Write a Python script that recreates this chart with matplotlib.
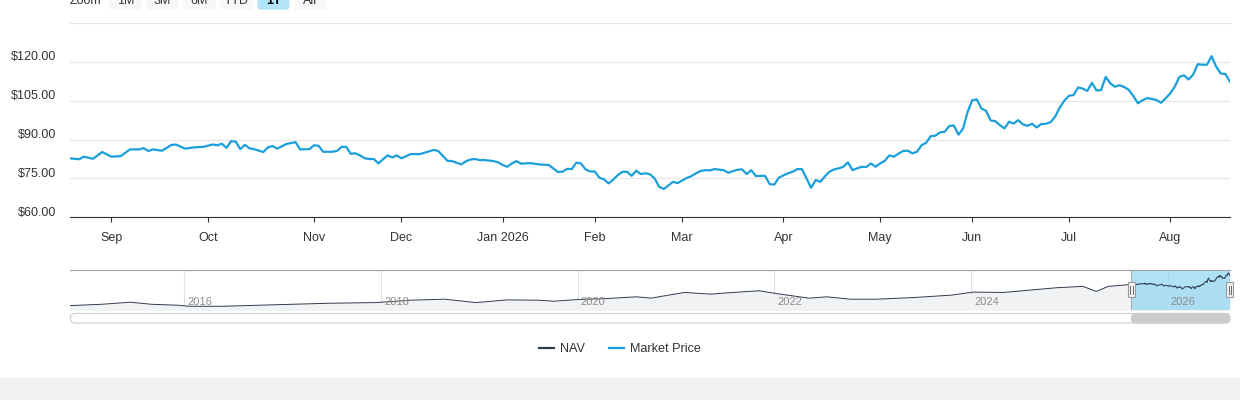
import matplotlib
matplotlib.use("Agg")
import matplotlib.pyplot as plt
import matplotlib.dates as mdates
from matplotlib.lines import Line2D
from matplotlib.patches import Rectangle, FancyBboxPatch
from matplotlib.transforms import ScaledTranslation, IdentityTransform
import numpy as np
import pandas as pd

plt.rcParams['font.family'] = ['Liberation Sans', 'DejaVu Sans']

price_dates = [
    '2025-08-19', '2025-08-21', '2025-08-22', '2025-08-26', '2025-08-28',
    '2025-09-02', '2025-09-04', '2025-09-08', '2025-09-10', '2025-09-11', '2025-09-12',
    '2025-09-15', '2025-09-17', '2025-09-19', '2025-09-22', '2025-09-24', '2025-09-26',
    '2025-09-30', '2025-10-02', '2025-10-03', '2025-10-06', '2025-10-07', '2025-10-08',
    '2025-10-09', '2025-10-10', '2025-10-13', '2025-10-14', '2025-10-15', '2025-10-17',
    '2025-10-20', '2025-10-21', '2025-10-22', '2025-10-24', '2025-10-28', '2025-10-29',
    '2025-10-31', '2025-11-03', '2025-11-04', '2025-11-05', '2025-11-07', '2025-11-10',
    '2025-11-11', '2025-11-12', '2025-11-13', '2025-11-14', '2025-11-17', '2025-11-18',
    '2025-11-19', '2025-11-20', '2025-11-21', '2025-11-24', '2025-11-25', '2025-11-26',
    '2025-11-28', '2025-12-01', '2025-12-03', '2025-12-05', '2025-12-08', '2025-12-10',
    '2025-12-11', '2025-12-15', '2025-12-16', '2025-12-18', '2025-12-19', '2025-12-22',
    '2025-12-23', '2025-12-24', '2025-12-26', '2025-12-30', '2025-12-31', '2026-01-02',
    '2026-01-05', '2026-01-06', '2026-01-07', '2026-01-08', '2026-01-12', '2026-01-14',
    '2026-01-16', '2026-01-21', '2026-01-22', '2026-01-23', '2026-01-26', '2026-01-27',
    '2026-01-28', '2026-01-29', '2026-01-30', '2026-02-02', '2026-02-03', '2026-02-04',
    '2026-02-05', '2026-02-06', '2026-02-09', '2026-02-10', '2026-02-11', '2026-02-12',
    '2026-02-13', '2026-02-17', '2026-02-18', '2026-02-19', '2026-02-20', '2026-02-23',
    '2026-02-24', '2026-02-25', '2026-02-26', '2026-02-27', '2026-03-02', '2026-03-03',
    '2026-03-04', '2026-03-05', '2026-03-06', '2026-03-09', '2026-03-10', '2026-03-11',
    '2026-03-12', '2026-03-13', '2026-03-16', '2026-03-17', '2026-03-18', '2026-03-19',
    '2026-03-20', '2026-03-23', '2026-03-24', '2026-03-25', '2026-03-26', '2026-03-27',
    '2026-03-30', '2026-03-31', '2026-04-01', '2026-04-02', '2026-04-06', '2026-04-07',
    '2026-04-08', '2026-04-09', '2026-04-10', '2026-04-13', '2026-04-14', '2026-04-15',
    '2026-04-16', '2026-04-17', '2026-04-20', '2026-04-21', '2026-04-22', '2026-04-23',
    '2026-04-24', '2026-04-27', '2026-04-28', '2026-04-29', '2026-04-30', '2026-05-01',
    '2026-05-04', '2026-05-05', '2026-05-06', '2026-05-07', '2026-05-08', '2026-05-11',
    '2026-05-12', '2026-05-13', '2026-05-14', '2026-05-15', '2026-05-18', '2026-05-19',
    '2026-05-20', '2026-05-21', '2026-05-22', '2026-05-26', '2026-05-27', '2026-05-28',
    '2026-05-29', '2026-06-01', '2026-06-02', '2026-06-03', '2026-06-04', '2026-06-05',
    '2026-06-08', '2026-06-09', '2026-06-10', '2026-06-11', '2026-06-12', '2026-06-15',
    '2026-06-16', '2026-06-17', '2026-06-18', '2026-06-22', '2026-06-23', '2026-06-24',
    '2026-06-25', '2026-06-26', '2026-06-29', '2026-06-30', '2026-07-01', '2026-07-02',
    '2026-07-06', '2026-07-07', '2026-07-08', '2026-07-09', '2026-07-10', '2026-07-13',
    '2026-07-14', '2026-07-15', '2026-07-16', '2026-07-17', '2026-07-20', '2026-07-21',
    '2026-07-22', '2026-07-23', '2026-07-24', '2026-07-27', '2026-07-28', '2026-07-29',
    '2026-07-30', '2026-07-31', '2026-08-03', '2026-08-04', '2026-08-05', '2026-08-06',
    '2026-08-07', '2026-08-10', '2026-08-11', '2026-08-12', '2026-08-13', '2026-08-14',
    '2026-08-17', '2026-08-18', '2026-08-19', '2026-08-20',
]
price_values = [
    82.75, 82.4, 83.4, 82.6, 85.2,
    83.4, 83.6, 86.2, 86.2, 86.7, 85.6,
    86.2, 85.7, 87.9, 88.1, 86.5, 87.0,
    87.2, 88.1, 87.8, 88.4, 86.8, 89.4,
    89.2, 86.3, 88.0, 86.6, 86.3, 85.2,
    87.0, 87.5, 86.5, 88.3, 89.0, 86.2,
    86.3, 87.8, 87.6, 85.3, 85.3, 85.6,
    87.2, 87.2, 84.5, 84.7, 83.9, 82.8,
    82.5, 82.5, 80.8, 82.4, 83.9, 83.1,
    83.9, 82.75, 84.4, 84.4, 84.9, 86.0,
    85.6, 81.8, 81.7, 80.4, 81.6, 82.3,
    82.5, 82.1, 82.1, 81.7, 81.2, 80.2,
    79.5, 80.8, 81.7, 80.7, 80.9, 80.4,
    80.2, 77.5, 77.6, 78.7, 78.6, 81.1,
    80.8, 78.5, 77.7, 77.7, 75.3, 74.65,
    73.1, 74.5, 76.3, 77.5, 77.6, 76.0,
    78.0, 76.7, 77.0, 76.6, 75.0, 71.8,
    70.9, 72.3, 73.7, 73.2, 74.2, 75.2,
    75.9, 77.0, 77.85, 78.2, 78.1, 78.6,
    78.4, 78.2, 77.2, 77.8, 78.35, 78.5,
    76.7, 78.2, 75.9, 76.0, 76.0, 72.8,
    72.6, 75.3, 76.2, 77.0, 77.6, 78.6,
    78.6, 75.0, 71.4, 74.4, 73.7, 75.8,
    77.6, 78.5, 78.9, 79.5, 81.2, 78.2,
    78.9, 79.5, 79.4, 80.8, 79.5, 80.8,
    81.8, 83.9, 83.4, 84.6, 85.6, 85.7,
    84.7, 85.3, 87.8, 88.8, 91.35, 91.5,
    92.8, 93.0, 95.2, 95.5, 91.9, 94.2,
    100.7, 105.2, 105.5, 102.0, 101.1, 97.4,
    97.1, 95.6, 94.3, 96.9, 96.2, 97.5,
    95.9, 95.3, 96.1, 94.7, 96.0, 96.1,
    96.7, 98.8, 102.3, 105.0, 106.9, 107.2,
    110.1, 109.7, 108.8, 111.9, 109.0, 109.1,
    114.2, 111.7, 110.4, 111.0, 110.3, 109.2,
    106.8, 104.0, 105.2, 106.0, 105.7, 105.3,
    104.2, 105.9, 107.8, 110.4, 114.2, 114.8,
    113.2, 115.1, 119.1, 118.9, 118.9, 122.2,
    118.1, 115.5, 115.3, 112.3,
]

# historique NAV (navigateur)
nav_hist_dates = [
    '2014-11-03', '2015-03-01', '2015-06-15', '2015-09-01', '2015-12-10', '2016-01-20',
    '2016-05-20', '2016-11-20', '2017-06-20', '2017-12-15', '2018-04-20', '2018-08-25',
    '2018-12-20', '2019-04-15', '2019-08-10', '2019-10-05', '2020-01-01', '2020-04-20',
    '2020-08-05', '2020-10-01', '2021-02-01', '2021-05-10', '2021-08-01', '2021-11-05',
    '2022-01-15', '2022-05-10', '2022-07-15', '2022-10-10', '2023-01-15', '2023-06-05',
    '2023-10-20', '2024-01-10', '2024-05-01', '2024-07-25', '2024-11-15', '2025-02-20',
    '2025-04-10', '2025-05-25', '2025-08-08',
]
nav_hist_values = [
    18.1, 22.4, 28.9, 22.4, 19.2, 16.0,
    16.0, 20.3, 25.6, 27.8, 35.3, 38.5,
    27.8, 36.3, 35.3, 32.1, 37.4, 40.6,
    46.0, 42.0, 59.9, 54.6, 59.9, 65.2,
    55.6, 41.7, 46.0, 38.5, 38.5, 43.8,
    51.4, 61.0, 59.9, 66.3, 74.9, 79.2,
    63.1, 79.2, 84.5,
]

market_holidays = ['2025-09-01', '2025-11-27', '2025-12-25', '2026-01-01', '2026-01-19',
                   '2026-02-16', '2026-04-03', '2026-05-25', '2026-06-19', '2026-07-03']
y_ticks = [60, 75, 90, 105, 120]
zoom_buttons = ['1M', '3M', '6M', 'YTD', '1Y', 'All']
nav_years = [2016, 2018, 2020, 2022, 2024, 2026]

BLUE = '#1a9fdb'
NAV_COL = '#2f3b4c'
W, H = 1240, 400

fig = plt.figure(figsize=(W / 100, H / 100), dpi=100)


def px_box(x0, y0, x1, y1):
    # pixels depuis le haut -> rectangle en coordonnées figure
    return [x0 / W, 1 - y1 / H, (x1 - x0) / W, (y1 - y0) / H]


# --- graphique principal (axe ordinal : jours de bourse) ---
days = pd.bdate_range(price_dates[0], price_dates[-1], freq='C', holidays=market_holidays)
pos = days.get_indexer(pd.to_datetime(price_dates))

ax = fig.add_axes(px_box(70, 23, 1230, 217.3))
ax.plot(pos, price_values, color=BLUE, lw=1.6, solid_joinstyle='round', zorder=3)
ax.set_xlim(0, len(days) - 1)
ax.set_ylim(60, 135)

ax.set_yticks(y_ticks)
ax.set_yticklabels([f'${v:.2f}' for v in y_ticks])
ax.yaxis.grid(True, color='#e6e6e6', lw=0.8)
ax.axhline(135, color='#e6e6e6', lw=0.8, clip_on=False)
ax.set_axisbelow(True)
ax.tick_params(axis='y', length=0, pad=10, labelsize=9, labelcolor='#333333')
for lab in ax.get_yticklabels():
    lab.set_transform(lab.get_transform() + ScaledTranslation(0, 0.06, fig.dpi_scale_trans))

idx = pd.Series(np.arange(len(days)), index=days)
firsts = idx.groupby(days.to_period('M')).first().iloc[1:]
ax.set_xticks(firsts.values)
ax.set_xticklabels([p.strftime('%b %Y') if p.month == 1 else p.strftime('%b') for p in firsts.index])
ax.tick_params(axis='x', length=3.7, width=0.8, color='#333333', pad=7,
               labelsize=9, labelcolor='#333333')
for s in ['top', 'left', 'right']:
    ax.spines[s].set_visible(False)
ax.spines['bottom'].set_color('#333333')
ax.spines['bottom'].set_linewidth(0.8)

# --- navigateur ---
nav = fig.add_axes(px_box(70, 269.5, 1230, 310))
nav_dates = pd.to_datetime(nav_hist_dates + price_dates)
nav_vals = nav_hist_values + price_values
sel_start = pd.Timestamp(price_dates[0])
sel_end = pd.Timestamp(price_dates[-1])
nav.fill_between(nav_dates, nav_vals, 0, color='#f1f2f4', lw=0, zorder=1)
nav.axvspan(sel_start, sel_end, color='#8fd6f3', alpha=0.7, lw=0, zorder=2)
nav.plot(nav_dates, nav_vals, color=NAV_COL, lw=0.7, zorder=4)
nav.set_xlim(pd.Timestamp('2014-11-03'), sel_end)
nav.set_ylim(4.2, 132.7)
for yr in nav_years:
    t = pd.Timestamp(f'{yr}-01-01')
    nav.axvline(t, color='#e0e0e0', lw=0.8, zorder=0.5)
    nav.annotate(str(yr), (t, 0), xycoords=('data', 'axes fraction'), xytext=(2.2, 5.5),
                 textcoords='offset points', va='center', ha='left', fontsize=8,
                 color='#8c8c8c', zorder=5)
nav.set_xticks([])
nav.set_yticks([])
for s in ['bottom', 'left', 'right']:
    nav.spines[s].set_visible(False)
nav.spines['top'].set_color('#a0a0a0')
nav.spines['top'].set_linewidth(0.8)
for t in (sel_start, sel_end):
    nav.axvline(t, color='#a8a8a8', lw=0.7, zorder=3)

# poignées + barre de défilement (en pixels écran)
x_lo = nav.transData.transform((mdates.date2num(sel_start), 0))[0]
x_hi = nav.transData.transform((mdates.date2num(sel_end), 0))[0]
hy = H - 289.5
for hx in (x_lo, x_hi):
    fig.add_artist(Rectangle((hx - 3.5, hy - 7.5), 7, 15, transform=IdentityTransform(),
                             facecolor='#f2f2f2', edgecolor='#999999', lw=0.8, zorder=6))
    for dx in (-1.2, 1.2):
        fig.add_artist(Line2D([hx + dx, hx + dx], [hy - 4, hy + 4], transform=IdentityTransform(),
                              color='#666666', lw=0.7, zorder=7))

fig.add_artist(FancyBboxPatch((70.5, H - 323), 1159, 9.5, boxstyle='round,pad=0,rounding_size=4.5',
                              transform=IdentityTransform(), facecolor='white',
                              edgecolor='#cccccc', lw=0.8))
fig.add_artist(FancyBboxPatch((x_lo, H - 323), x_hi - x_lo, 9.5,
                              boxstyle='round,pad=0,rounding_size=4.5',
                              transform=IdentityTransform(), facecolor='#cccccc',
                              edgecolor='#cccccc', lw=0.8))

# --- sélecteur de période (coupé en haut, comme sur l'original) ---
fig.text(70 / W, 1 - 4 / H, 'Zoom', fontsize=9, color='#333333', va='baseline', ha='left')
for i, lab in enumerate(zoom_buttons):
    bx = 109.5 + i * 37
    sel = lab == '1Y'
    fig.add_artist(FancyBboxPatch((bx, H - 9.7), 32, 20, boxstyle='round,pad=0,rounding_size=3',
                                  transform=IdentityTransform(),
                                  facecolor='#b3e5f8' if sel else '#f7f7f7', lw=0))
    fig.text((bx + 16) / W, 1 - 4 / H, lab, fontsize=9, ha='center', va='baseline',
             color='#000000' if sel else '#333333', fontweight='bold' if sel else 'normal')

# --- légende ---
handles = [Line2D([], [], color=NAV_COL, lw=1.6), Line2D([], [], color=BLUE, lw=1.6)]
fig.legend(handles, ['NAV', 'Market Price'], loc='center', bbox_to_anchor=(0.5, 1 - 349 / H),
           ncol=2, frameon=False, fontsize=9.1, handlelength=1.2, handletextpad=0.45,
           columnspacing=1.9, labelcolor='#333333')

# bande grise en bas
fig.add_artist(Rectangle((0, 0), 1, 22 / H, transform=fig.transFigure, color='#f2f2f2', lw=0))

fig.savefig('out.png', dpi=100, facecolor='white')
